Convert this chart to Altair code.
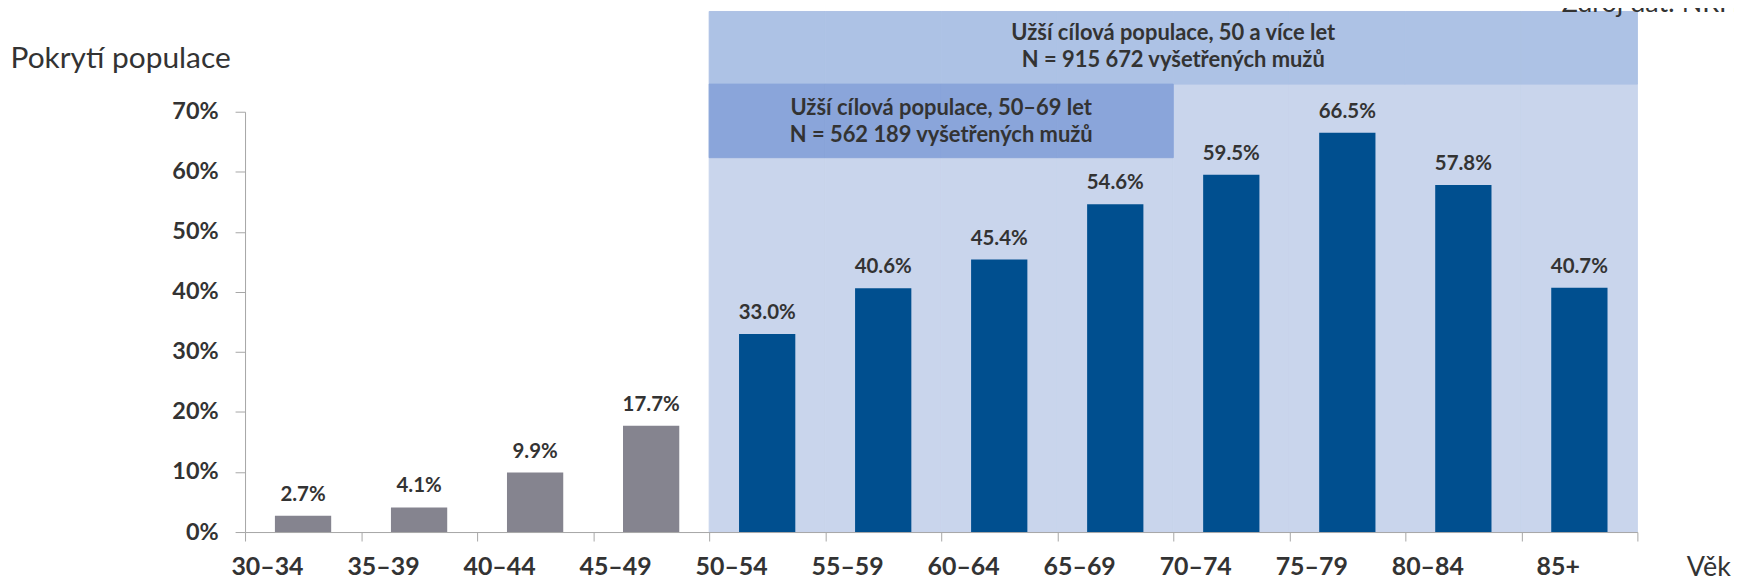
import altair as alt
import pandas as pd

# ---- data ----
ages = ['30–34', '35–39', '40–44', '45–49', '50–54', '55–59',
        '60–64', '65–69', '70–74', '75–79', '80–84', '85+']
coverage = [2.7, 4.1, 9.9, 17.7, 33.0, 40.6, 45.4, 54.6, 59.5, 66.5, 57.8, 40.7]
groups = ['mimo', 'mimo', 'mimo', 'mimo', 'cíl', 'cíl',
          'cíl', 'cíl', 'cíl', 'cíl', 'cíl', 'cíl']

wide_ages = ['50–54', '55–59', '60–64', '65–69', '70–74', '75–79', '80–84', '85+']
narrow_ages = ['50–54', '55–59', '60–64', '65–69']
wide_box = [74.6, 86.7]      # y-range of the "50 a více let" header box
narrow_box = [62.35, 74.6]   # y-range of the "50–69 let" box

box_anchor = ['70–74', '60–64']
box_first_line = [83.1, 70.6]
box_text = ['Užší cílová populace, 50 a více let\nN = 915 672 vyšetřených mužů',
            'Užší cílová populace, 50–69 let\nN = 562 189 vyšetřených mužů']

y_ticks = [0, 10, 20, 30, 40, 50, 60, 70]
source_text = ['Zdroj dat: NRHZS']

# ---- tables ----
bars_df = pd.DataFrame({'age': ages, 'value': coverage, 'grp': groups})
bg_df = pd.DataFrame({'age': wide_ages, 'lo': 0, 'hi': wide_box[0]})
wide_df = pd.DataFrame({'age': wide_ages, 'lo': wide_box[0], 'hi': wide_box[1]})
narrow_df = pd.DataFrame({'age': narrow_ages, 'lo': narrow_box[0], 'hi': narrow_box[1]})
boxtext_df = pd.DataFrame({'age': box_anchor, 'y': box_first_line, 'txt': box_text})
src_df = pd.DataFrame({'txt': source_text})

W, H = 1398, 422
FONT = 'Lato'
TXT = '#333333'
AXIS_GREY = '#a6a6a6'

xscale = alt.Scale(domain=ages, paddingInner=0, paddingOuter=0)
yscale = alt.Scale(domain=[0, 70], nice=False, zero=True)


def band_rect(df, color):
    return alt.Chart(df).mark_rect(color=color, stroke=color, strokeWidth=1).encode(
        x=alt.X('age:N', scale=xscale),
        y=alt.Y('lo:Q', scale=yscale),
        y2='hi:Q',
    )


bg = band_rect(bg_df, '#c9d5ec')
wide = band_rect(wide_df, '#adc2e5')
narrow = band_rect(narrow_df, '#8aa5da')

bars = alt.Chart(bars_df).mark_bar(width=alt.RelativeBandSize(0.485)).encode(
    x=alt.X('age:N', scale=xscale, sort=ages,
            axis=alt.Axis(title='Věk', labelAngle=0, labelFont=FONT, labelFontSize=25,
                          labelFontWeight='bold', labelColor=TXT, labelPadding=26,
                          labelBaseline='middle', tickBand='extent', tickSize=9,
                          tickColor=AXIS_GREY, domainColor=AXIS_GREY, grid=False,
                          titleFont=FONT, titleFontSize=27, titleFontWeight='normal',
                          titleColor=TXT, titleX=1447, titleY=36, titleAlign='left',
                          titleBaseline='middle', zindex=1)),
    y=alt.Y('value:Q', scale=yscale,
            axis=alt.Axis(title='Pokrytí populace', values=y_ticks,
                          labelExpr="datum.value + '%'", labelFont=FONT,
                          labelFontSize=23.5, labelFontWeight='bold', labelColor=TXT,
                          labelPadding=17, tickSize=10, tickColor=AXIS_GREY,
                          domainColor=AXIS_GREY, grid=False, titleAngle=0,
                          titleX=-236, titleY=-53, titleAlign='left',
                          titleBaseline='middle', titleFont=FONT, titleFontSize=30,
                          titleFontWeight='normal', titleColor=TXT, zindex=1)),
    color=alt.Color('grp:N', scale=alt.Scale(domain=['mimo', 'cíl'],
                                             range=['#85848f', '#004f8f']), legend=None),
)

values = alt.Chart(bars_df).transform_calculate(
    lbl="format(datum.value, '.1f') + '%'"
).mark_text(font=FONT, fontSize=20.5, fontWeight='bold', color=TXT,
            baseline='alphabetic', dy=-15).encode(
    x=alt.X('age:N', scale=xscale),
    y=alt.Y('value:Q', scale=yscale),
    text='lbl:N',
)

boxlabels = alt.Chart(boxtext_df).mark_text(
    font=FONT, fontSize=22, fontWeight='bold', color=TXT, baseline='middle',
    align='center', lineBreak='\n', lineHeight=27).encode(
    x=alt.X('age:N', scale=xscale, bandPosition=0),
    y=alt.Y('y:Q', scale=yscale),
    text='txt:N',
)

source = alt.Chart(src_df).mark_text(
    font=FONT, fontSize=27, color=TXT, align='left', baseline='alphabetic').encode(
    x=alt.value(1322), y=alt.value(-100), text='txt:N')

chart = alt.layer(bg, wide, narrow, bars, values, boxlabels, source).properties(
    width=W, height=H,
    autosize=alt.AutoSizeParams(type='none'),
    padding={'left': 238, 'top': 103, 'right': 97, 'bottom': 49},
    background='white',
).configure_view(stroke=None)

chart.save('out.html', embed_options={'renderer': 'svg', 'actions': False})
